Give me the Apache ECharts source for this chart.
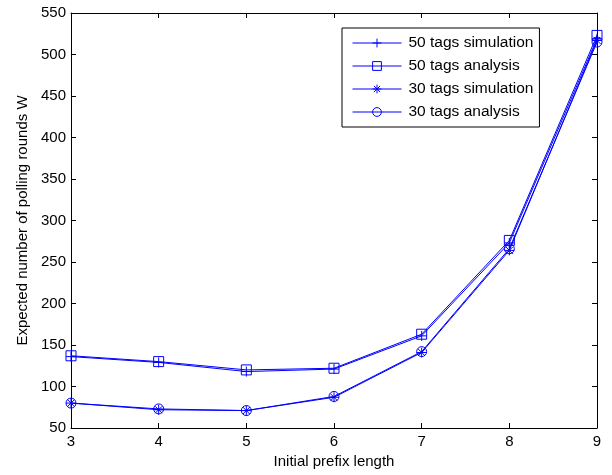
<!DOCTYPE html>
<html>
<head>
<meta charset="utf-8">
<script src="https://cdn.jsdelivr.net/npm/echarts@6/dist/echarts.min.js"></script>
<style>
  html, body { margin: 0; padding: 0; background: #fff; }
  #main { width: 612px; height: 475px; }
</style>
</head>
<body>
<div id="main"></div>
<script>
// data
var prefixLen = [3, 4, 5, 6, 7, 8, 9];
var sim50 = [136, 129, 118, 121, 161, 273, 519];
var ana50 = [137, 130, 120, 122, 163, 276, 523];
var sim30 = [80, 72, 71, 87, 141, 264, 517];
var ana30 = [80, 73, 71, 88, 142, 266, 515];
var seriesNames = ['50 tags simulation', '50 tags analysis', '30 tags simulation', '30 tags analysis'];

// matlab style markers
var markers = {
    plus: 'path://M0,5L10,5M5,0L5,10',
    square: 'path://M0,0L10,0L10,10L0,10Z',
    star: 'path://M0,5L10,5M5,0L5,10M1.5,1.5L8.5,8.5M8.5,1.5L1.5,8.5',
    circle: 'path://M10,5A5,5,0,1,1,0,5A5,5,0,1,1,10,5Z'
};
var blue = '#0000ff';
var font = 'Liberation Sans, Arial, Helvetica, sans-serif';

function pairs(ys) {
    return prefixLen.map(function (x, i) { return [x, ys[i]]; });
}

function lineSeries(name, ys, symbol) {
    return {
        name: name,
        type: 'line',
        data: pairs(ys),
        symbol: symbol,
        symbolSize: 10,
        showAllSymbol: true,
        lineStyle: { color: blue, width: 1 },
        itemStyle: { color: 'rgba(0,0,0,0)', borderColor: blue, borderWidth: 1 },
        emphasis: { disabled: true },
        animation: false
    };
}

var axisLine = { show: true, lineStyle: { color: '#000', width: 1 } };
var axisTick = { show: true, inside: true, length: 5, lineStyle: { color: '#000' } };

var chart = echarts.init(document.getElementById('main'));
chart.setOption({
    backgroundColor: '#fff',
    animation: false,
    grid: { left: 71, right: 15, top: 13, bottom: 47 },
    legend: {
        orient: 'vertical',
        left: 342,
        top: 28,
        padding: [7, 6, 7, 10],
        itemGap: 7,
        itemWidth: 49,
        itemHeight: 11,
        backgroundColor: '#fff',
        borderColor: '#000',
        borderWidth: 1,
        borderRadius: 0,
        lineStyle: { width: 1 },
        itemStyle: { borderWidth: 1 },
        textStyle: { color: '#000', fontSize: 15.5, fontFamily: font, padding: [0, 0, 0, 2] },
        data: seriesNames
    },
    xAxis: [{
        type: 'value',
        min: 3, max: 9, interval: 1,
        name: 'Initial prefix length',
        nameLocation: 'middle',
        nameGap: 26,
        nameTextStyle: { color: '#000', fontSize: 15, fontFamily: font },
        axisLine: axisLine,
        axisTick: axisTick,
        axisLabel: { color: '#000', fontSize: 15, fontFamily: font, margin: 6 },
        splitLine: { show: false }
    }, {
        type: 'value',
        position: 'top',
        min: 3, max: 9, interval: 1,
        axisLine: axisLine,
        axisTick: axisTick,
        axisLabel: { show: false },
        splitLine: { show: false }
    }],
    yAxis: [{
        type: 'value',
        min: 50, max: 550, interval: 50,
        name: 'Expected number of polling rounds W',
        nameLocation: 'middle',
        nameGap: 40,
        nameTextStyle: { color: '#000', fontSize: 15, fontFamily: font },
        axisLine: axisLine,
        axisTick: axisTick,
        axisLabel: { color: '#000', fontSize: 15, fontFamily: font, margin: 5 },
        splitLine: { show: false }
    }, {
        type: 'value',
        position: 'right',
        min: 50, max: 550, interval: 50,
        axisLine: axisLine,
        axisTick: axisTick,
        axisLabel: { show: false },
        splitLine: { show: false }
    }],
    series: [
        lineSeries(seriesNames[0], sim50, markers.plus),
        lineSeries(seriesNames[1], ana50, markers.square),
        lineSeries(seriesNames[2], sim30, markers.star),
        lineSeries(seriesNames[3], ana30, markers.circle)
    ]
});
</script>
</body>
</html>
